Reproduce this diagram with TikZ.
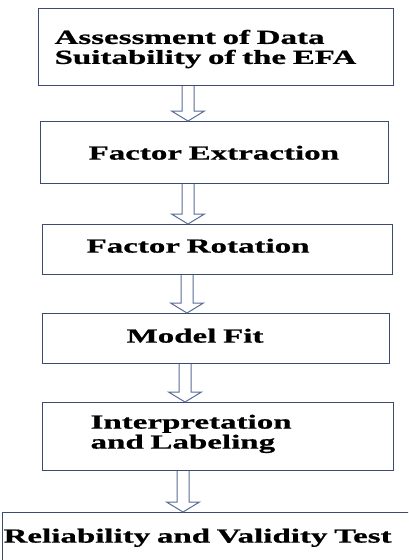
\documentclass[tikz,border=0pt]{standalone}
\usepackage{fontspec}
\newfontfamily\boxfont{Liberation Serif}[UprightFont=*, BoldFont=* Bold, FakeStretch=1.65, FakeBold=0.8]
\usetikzlibrary{calc}
\definecolor{boxcol}{RGB}{60,76,112}
\definecolor{arrcol}{RGB}{88,108,150}

\begin{document}
\begin{tikzpicture}[x=1pt, y=-1pt,
	every node/.style={rectangle, draw=boxcol, line width=1.2pt, anchor=north west, align=left, inner ysep=0pt, font=\boxfont\fontsize{20}{20}\selectfont\bfseries},
	blockarr/.style={draw=arrcol, line width=1pt, to path={let \p1=(\tikztostart), \p2=(\tikztotarget) in (\x1-6pt,\y1) -- (\x1-6pt,\y2+10pt) -- (\x1-16.5pt,\y2+10pt) -- (\x1,\y2) -- (\x1+16.5pt,\y2+10pt) -- (\x1+6pt,\y2+10pt) -- (\x1+6pt,\y1)}}]
			\useasboundingbox (0,0) rectangle (408,560);
			\clip (0,0) rectangle (408,560);
			
			\node[inner xsep=16pt, text width=323pt, text height=35.3pt, text depth=41.7pt] (assess) at (38,8){Assessment of Data\\Suitability of the EFA};
			\node[inner xsep=48pt, text width=252pt, text height=38pt, text depth=24pt] (extract) at (40,121){Factor Extraction};
			\node[inner xsep=44pt, text width=262pt, text height=28pt, text depth=22pt] (rotate) at (42,224){Factor Rotation};
			\node[inner xsep=84pt, text width=179pt, text height=29pt, text depth=21pt] (fit) at (42,313){Model Fit};
			\node[inner xsep=48pt, text width=255pt, text height=26pt, text depth=42pt] (label) at (42,402){Interpretation\\and Labeling};
			\node[inner xsep=1pt, text width=430pt, text height=30pt, text depth=30pt] (test) at (2,512){Reliability and Validity Test};
			
			\coordinate (c1) at (188,0);
			\coordinate (c2) at (188,0);
			\coordinate (c3) at (187,0);
			\coordinate (c4) at (185,0);
			\coordinate (c5) at (183,0);
			
			\path (assess.south -| c1) edge[blockarr] (extract.north -| c1);
			\path (extract.south -| c2) edge[blockarr] (rotate.north -| c2);
			\path (rotate.south -| c3) edge[blockarr] (fit.north -| c3);
			\path (fit.south -| c4) edge[blockarr] (label.north -| c4);
			\path (label.south -| c5) edge[blockarr] (test.north -| c5);
			\end{tikzpicture}
\end{document}
